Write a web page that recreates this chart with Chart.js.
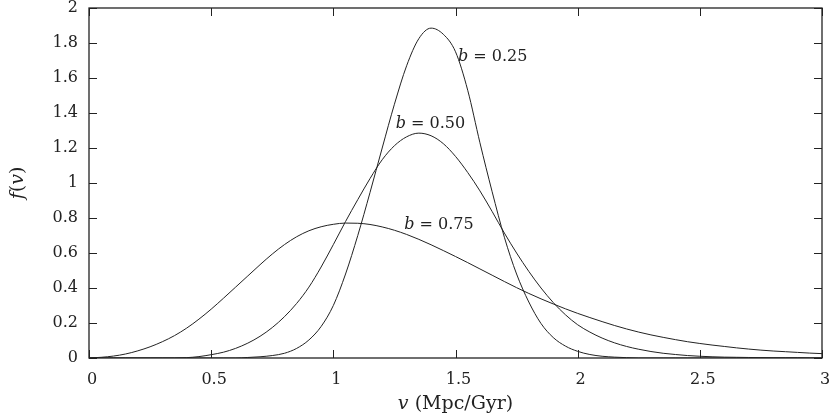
<!DOCTYPE html>
<html>
<head>
<meta charset="utf-8">
<script src="https://cdn.jsdelivr.net/npm/chart.js@4"></script>
<style>
  html, body { margin: 0; padding: 0; background: #fff; }
  #wrap { width: 829px; height: 415px; }
</style>
</head>
<body>
<div id="wrap"><canvas id="chart"></canvas></div>
<script>
// velocity grid (Mpc/Gyr), every 0.05
const vGrid = [];
for (let i = 0; i <= 60; i++) vGrid.push(+(i * 0.05).toFixed(2));

// f(v) for b = 0.25
const f025 = [
  0, 0, 0, 0, 0, 0, 0, 0, 0, 0,
  0, 0, 0, 0.003, 0.007, 0.014, 0.027, 0.055, 0.103, 0.18,
  0.30, 0.48, 0.70, 0.945, 1.20, 1.45, 1.67, 1.825, 1.885, 1.85,
  1.75, 1.53, 1.23, 0.95, 0.69, 0.48, 0.32, 0.197, 0.117, 0.068,
  0.038, 0.02, 0.01, 0.005, 0.002, 0, 0, 0, 0, 0,
  0, 0, 0, 0, 0, 0, 0, 0, 0, 0, 0
];
// f(v) for b = 0.50
const f050 = [
  0, 0, 0, 0, 0, 0, 0, 0, 0.002, 0.008,
  0.019, 0.033, 0.055, 0.085, 0.124, 0.174, 0.236, 0.312, 0.405, 0.52,
  0.648, 0.78, 0.905, 1.025, 1.133, 1.213, 1.264, 1.285, 1.27, 1.225,
  1.152, 1.06, 0.955, 0.837, 0.714, 0.60, 0.495, 0.40, 0.317, 0.247,
  0.19, 0.148, 0.114, 0.087, 0.066, 0.05, 0.037, 0.027, 0.02, 0.014,
  0.01, 0.007, 0.005, 0.004, 0.003, 0.002, 0.001, 0.001, 0.001, 0, 0
];
// f(v) for b = 0.75
const f075 = [
  0, 0.004, 0.011, 0.023, 0.041, 0.064, 0.093, 0.128, 0.171, 0.222,
  0.279, 0.341, 0.405, 0.469, 0.533, 0.594, 0.648, 0.693, 0.727, 0.75,
  0.764, 0.771, 0.77, 0.763, 0.749, 0.73, 0.706, 0.678, 0.647, 0.614,
  0.58, 0.545, 0.509, 0.473, 0.437, 0.402, 0.369, 0.338, 0.309, 0.281,
  0.255, 0.231, 0.208, 0.186, 0.166, 0.148, 0.132, 0.118, 0.105, 0.093,
  0.083, 0.074, 0.066, 0.058, 0.051, 0.045, 0.04, 0.036, 0.032, 0.028, 0.025
];

const seriesNames = ['0.25', '0.50', '0.75'];
// where each curve label sits, in data units (left edge, vertical middle)
const labelPos = [
  { v: 1.51, f: 1.72 },
  { v: 1.255, f: 1.34 },
  { v: 1.29, f: 0.76 }
];

const xTickValues = [0, 0.5, 1, 1.5, 2, 2.5, 3];
const xTickLabels = ['0', '0.5', '1', '1.5', '2', '2.5', '3'];
const yTickValues = [0, 0.2, 0.4, 0.6, 0.8, 1, 1.2, 1.4, 1.6, 1.8, 2];
const yTickLabels = ['0', '0.2', '0.4', '0.6', '0.8', '1', '1.2', '1.4', '1.6', '1.8', '2'];

const FONT = '"DejaVu Serif", "Liberation Serif", serif';
const FSIZE = 16;
const TSIZE = 19;
const INK = '#222';

function toPoints(vals) {
  return vGrid.map((v, i) => ({ x: v, y: vals[i] }));
}

function mixedText(ctx, parts, x, y, size) {
  // parts: [text, italic?]
  let cx = x;
  parts.forEach(p => {
    ctx.font = (p[1] ? 'italic ' : '') + (size || FSIZE) + 'px ' + FONT;
    ctx.fillText(p[0], cx, y);
    cx += ctx.measureText(p[0]).width;
  });
  return cx - x;
}

function partsWidth(ctx, parts, size) {
  let w = 0;
  parts.forEach(p => {
    ctx.font = (p[1] ? 'italic ' : '') + (size || FSIZE) + 'px ' + FONT;
    w += ctx.measureText(p[0]).width;
  });
  return w;
}

const framePlugin = {
  id: 'frame',
  afterDraw(chart) {
    const ctx = chart.ctx;
    const a = chart.chartArea;
    const xs = chart.scales.x, ys = chart.scales.y;
    ctx.save();
    ctx.strokeStyle = INK;
    ctx.lineWidth = 1;
    ctx.beginPath();
    // inward ticks on all four sides
    xTickValues.forEach(v => {
      const px = Math.round(xs.getPixelForValue(v)) + 0.5;
      ctx.moveTo(px, a.bottom); ctx.lineTo(px, a.bottom - 8);
      ctx.moveTo(px, a.top); ctx.lineTo(px, a.top + 8);
    });
    yTickValues.forEach(v => {
      const py = Math.round(ys.getPixelForValue(v)) + 0.5;
      ctx.moveTo(a.left, py); ctx.lineTo(a.left + 8, py);
      ctx.moveTo(a.right, py); ctx.lineTo(a.right - 8, py);
    });
    ctx.stroke();
    ctx.lineWidth = 1.3;
    ctx.strokeRect(a.left, a.top, a.right - a.left, a.bottom - a.top);

    // curve labels
    ctx.fillStyle = INK;
    ctx.textBaseline = 'middle';
    ctx.textAlign = 'left';
    labelPos.forEach((p, i) => {
      mixedText(ctx, [['b', true], [' = ' + seriesNames[i], false]],
        xs.getPixelForValue(p.v), ys.getPixelForValue(p.f));
    });

    // x axis title
    const xt = [['v', true], [' (Mpc/Gyr)', false]];
    const cx = (a.left + a.right) / 2;
    mixedText(ctx, xt, cx - partsWidth(ctx, xt, TSIZE) / 2, 404, TSIZE);

    // y axis title, rotated
    const yt = [['f', true], ['(', false], ['v', true], [')', false]];
    ctx.translate(18, (a.top + a.bottom) / 2);
    ctx.rotate(-Math.PI / 2);
    mixedText(ctx, yt, -partsWidth(ctx, yt, TSIZE) / 2, 0, TSIZE);
    ctx.restore();
  }
};

const lineStyle = {
  borderColor: INK,
  borderWidth: 1,
  pointRadius: 0,
  fill: false,
  cubicInterpolationMode: 'monotone'
};

new Chart(document.getElementById('chart').getContext('2d'), {
  type: 'line',
  data: {
    datasets: [
      Object.assign({ label: 'b = 0.25', data: toPoints(f025) }, lineStyle),
      Object.assign({ label: 'b = 0.50', data: toPoints(f050) }, lineStyle),
      Object.assign({ label: 'b = 0.75', data: toPoints(f075) }, lineStyle)
    ]
  },
  options: {
    responsive: true,
    maintainAspectRatio: false,
    animation: false,
    layout: { padding: { top: 8, right: 7, left: 0, bottom: 0 } },
    plugins: { legend: { display: false }, tooltip: { enabled: false } },
    scales: {
      x: {
        type: 'linear',
        min: 0,
        max: 3,
        afterFit: s => { s.height = 57; s.paddingLeft = 0; s.paddingRight = 0; },
        afterBuildTicks: s => { s.ticks = xTickValues.map(v => ({ value: v })); },
        grid: { display: false, drawTicks: false },
        border: { display: false },
        ticks: {
          padding: 12,
          labelOffset: 3,
          color: INK,
          font: { family: FONT, size: FSIZE },
          maxRotation: 0,
          callback: (v, i) => xTickLabels[i]
        }
      },
      y: {
        type: 'linear',
        min: 0,
        max: 2,
        afterFit: s => { s.width = 89; s.paddingTop = 0; s.paddingBottom = 0; },
        afterBuildTicks: s => { s.ticks = yTickValues.map(v => ({ value: v })); },
        grid: { display: false, drawTicks: false },
        border: { display: false },
        ticks: {
          padding: 11,
          color: INK,
          font: { family: FONT, size: FSIZE },
          callback: (v, i) => yTickLabels[i]
        }
      }
    }
  },
  plugins: [framePlugin]
});
</script>
</body>
</html>
